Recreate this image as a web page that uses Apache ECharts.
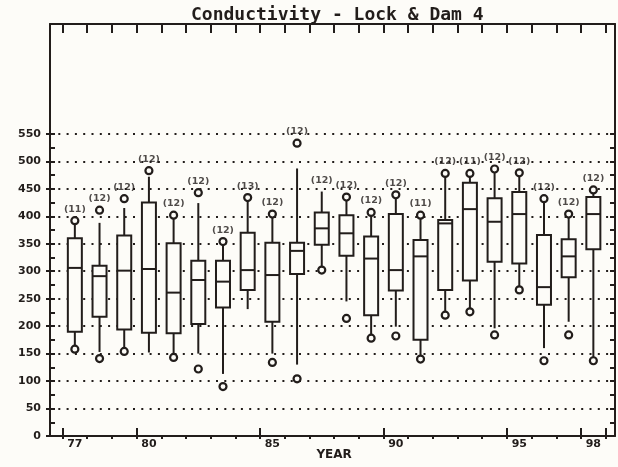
<!DOCTYPE html>
<html>
<head>
<meta charset="utf-8">
<script src="https://cdn.jsdelivr.net/npm/echarts@6/dist/echarts.min.js"></script>
<style>
  html, body { margin: 0; padding: 0; background: #fdfcf8; }
  #chart { width: 618px; height: 467px; }
</style>
</head>
<body>
<div id="chart"></div>
<script>
// Monthly conductivity samples per year, summarised as box plots
const years = ['77','78','79','80','81','82','83','84','85','86','87',
               '88','89','90','91','92','93','94','95','96','97','98'];
const counts      = [11, 12, 12, 12, 12, 12, 12, 13, 12, 12, 12, 12, 12, 12, 11, 12, 11, 12, 12, 12, 12, 12];
const whiskerLow  = [158, 153, 154, 152, 143, 150, 113, 231, 150, 130, 302, 245, 178, 199, 140, 220, 226, 196, 266, 160, 208, 137];
const q1          = [190, 217, 194, 188, 187, 204, 234, 266, 208, 295, 348, 328, 220, 265, 175, 266, 283, 317, 314, 239, 289, 340];
const median      = [306, 291, 301, 304, 261, 284, 281, 302, 293, 337, 378, 369, 323, 302, 327, 387, 413, 390, 404, 271, 327, 404];
const q3          = [360, 310, 365, 425, 351, 319, 319, 370, 352, 352, 407, 402, 363, 404, 357, 393, 461, 433, 444, 366, 358, 435];
const whiskerHigh = [392, 388, 415, 472, 402, 424, 354, 434, 404, 487, 445, 435, 407, 439, 402, 478, 478, 486, 479, 432, 404, 448];
const minPoints   = [158, 141, 154, null, 143, 122, 90, null, 134, 104, 302, 214, 178, 182, 140, 220, 226, 184, 266, 137, 184, 137];
const maxPoints   = [392, 411, 432, 483, 402, 443, 354, 434, 404, 533, null, 435, 407, 439, 402, 478, 478, 486, 479, 432, 404, 448];
const yTickValues = [0, 50, 100, 150, 200, 250, 300, 350, 400, 450, 500, 550];
const labelledYears = ['77', '80', '85', '90', '95', '98'];

const INK = '#221d1b';
const PAPER = '#fdfcf8';

const boxData = years.map((y, i) => [i, whiskerLow[i], q1[i], median[i], q3[i], whiskerHigh[i]]);
const pointList = arr => arr.map((v, i) => (v == null ? null : [i, v])).filter(d => d !== null);
const countData = years.map((y, i) => [i, maxPoints[i] != null ? maxPoints[i] : whiskerHigh[i], counts[i]]);

const fixed = { containLabel: false, outerBoundsMode: 'none' };
const frameGrid = Object.assign({ left: 50, right: 3, top: 24, bottom: 31 }, fixed);
// Same vertical scale as the frame (0..750), but only spanning 0..550
const tickGrid = Object.assign({ left: 50, right: 3, top: 436 - 550 * (412 / 750), bottom: 31 }, fixed);
const dataGrid = Object.assign({ left: 62.5, right: 12.3, top: 24, bottom: 31 }, fixed);

const solid = { show: true, onZero: false, lineStyle: { color: INK, width: 2 } };
const off = { show: false };

const chart = echarts.init(document.getElementById('chart'), null, { renderer: 'canvas' });

chart.setOption({
  backgroundColor: PAPER,
  animation: false,
  title: {
    text: 'Conductivity - Lock & Dam 4',
    left: 186,
    top: 1,
    textStyle: { fontFamily: 'DejaVu Sans Mono', fontWeight: 'bold', fontSize: 18, color: INK }
  },
  grid: [frameGrid, tickGrid, dataGrid],
  xAxis: [
    { gridIndex: 0, type: 'value', min: 0, max: 1, position: 'bottom',
      axisLine: solid, axisTick: off, axisLabel: off, splitLine: off },
    { gridIndex: 0, type: 'value', min: 0, max: 1, position: 'top',
      axisLine: solid, axisTick: off, axisLabel: off, splitLine: off },
    { gridIndex: 1, type: 'value', min: 0, max: 1, show: false },
    { gridIndex: 2, type: 'category', data: years, position: 'bottom', boundaryGap: true,
      axisLine: off,
      axisTick: { show: true, inside: true, length: 8, lineStyle: { color: INK, width: 2 } },
      axisLabel: {
        show: true, margin: 3,
        interval: (idx, val) => labelledYears.indexOf(val) >= 0,
        color: INK, fontFamily: 'DejaVu Sans', fontWeight: 'bold', fontSize: 11
      },
      name: 'YEAR', nameLocation: 'middle', nameGap: 13, nameMoveOverlap: false,
      nameTextStyle: { color: INK, fontFamily: 'DejaVu Sans', fontWeight: 'bold', fontSize: 12 },
      splitLine: off },
    { gridIndex: 2, type: 'category', data: years, position: 'bottom', boundaryGap: true,
      axisLine: off,
      axisTick: { show: true, inside: false, length: 3, lineStyle: { color: INK, width: 2 } },
      axisLabel: off, splitLine: off },
    { gridIndex: 2, type: 'category', data: years, position: 'top', boundaryGap: true,
      axisLine: off,
      axisTick: { show: true, inside: true, length: 9, lineStyle: { color: INK, width: 2 } },
      axisLabel: off, splitLine: off }
  ],
  yAxis: [
    { gridIndex: 0, type: 'value', min: 0, max: 750, position: 'left',
      axisLine: solid, axisTick: off, axisLabel: off, splitLine: off },
    { gridIndex: 0, type: 'value', min: 0, max: 750, position: 'right',
      axisLine: solid, axisTick: off, axisLabel: off, splitLine: off },
    { gridIndex: 1, type: 'value', min: 0, max: 550, interval: 50, position: 'left',
      axisLine: off,
      axisTick: { show: true, inside: false, length: 4, lineStyle: { color: INK, width: 2 } },
      axisLabel: { show: true, customValues: yTickValues, margin: 9, color: INK,
                   fontFamily: 'DejaVu Sans', fontWeight: 'bold', fontSize: 11 },
      splitLine: { show: true, lineStyle: { color: INK, width: 2, type: [2, 6.3] } } },
    { gridIndex: 1, type: 'value', min: 0, max: 550, interval: 25, position: 'left',
      axisLine: off,
      axisTick: { show: true, inside: true, length: 5, lineStyle: { color: INK, width: 2 } },
      axisLabel: off, splitLine: off },
    { gridIndex: 1, type: 'value', min: 0, max: 550, interval: 25, position: 'right',
      axisLine: off,
      axisTick: { show: true, inside: true, length: 5, lineStyle: { color: INK, width: 2 } },
      axisLabel: off, splitLine: off },
    { gridIndex: 2, type: 'value', min: 0, max: 750, show: false }
  ],
  series: [
    {
      type: 'custom',
      xAxisIndex: 3,
      yAxisIndex: 5,
      data: boxData,
      encode: { x: 0, y: [1, 2, 3, 4, 5] },
      renderItem: function (params, api) {
        const i = api.value(0);
        const lo = api.coord([i, api.value(1)]);
        const b1 = api.coord([i, api.value(2)]);
        const md = api.coord([i, api.value(3)]);
        const b3 = api.coord([i, api.value(4)]);
        const hi = api.coord([i, api.value(5)]);
        const cx = lo[0];
        const hw = 7;
        const stroke = { stroke: INK, lineWidth: 2 };
        return {
          type: 'group',
          children: [
            { type: 'line', shape: { x1: cx, y1: lo[1], x2: cx, y2: b1[1] }, style: stroke },
            { type: 'line', shape: { x1: cx, y1: b3[1], x2: cx, y2: hi[1] }, style: stroke },
            { type: 'rect', shape: { x: cx - hw, y: b3[1], width: 2 * hw, height: b1[1] - b3[1] },
              style: { fill: PAPER, stroke: INK, lineWidth: 2 } },
            { type: 'line', shape: { x1: cx - hw, y1: md[1], x2: cx + hw, y2: md[1] }, style: stroke }
          ]
        };
      },
      z: 3
    },
    {
      type: 'scatter',
      xAxisIndex: 3,
      yAxisIndex: 5,
      data: pointList(minPoints).concat(pointList(maxPoints)),
      symbol: 'circle',
      symbolSize: 7,
      itemStyle: { color: PAPER, borderColor: INK, borderWidth: 2.2, opacity: 1 },
      z: 4
    },
    {
      type: 'scatter',
      xAxisIndex: 3,
      yAxisIndex: 5,
      data: countData,
      symbol: 'circle',
      symbolSize: 1,
      itemStyle: { color: 'rgba(0,0,0,0)' },
      label: {
        show: true,
        position: 'top',
        distance: 6,
        formatter: p => '(' + p.value[2] + ')',
        color: INK,
        fontFamily: 'DejaVu Sans',
        fontWeight: 'bold',
        fontSize: 9.5
      },
      z: 5
    }
  ]
});
</script>
</body>
</html>
